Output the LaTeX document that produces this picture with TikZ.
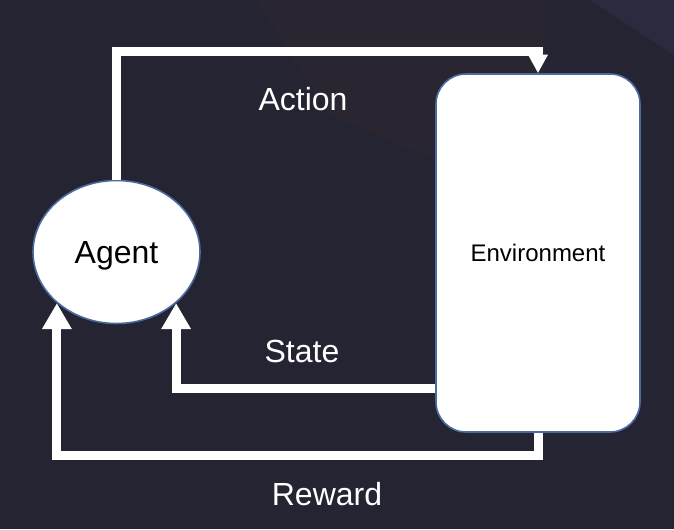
\documentclass[tikz,border=0pt]{standalone}
\usepackage{fontspec}
\setmainfont{Liberation Sans}
\usetikzlibrary{arrows.meta, shapes.geometric}
\definecolor{bgnavy}{RGB}{36,36,51}
\definecolor{bgwarm}{RGB}{52,39,48}
\definecolor{bgviolet}{RGB}{52,50,78}
\definecolor{rimblue}{RGB}{74,106,160}

\begin{document}
\begin{tikzpicture}[x=0.75pt, y=-0.75pt,
	agentnode/.style={ellipse, draw=rimblue, line width=1.2pt, fill=white,
		minimum width=125.25pt, minimum height=107.25pt, inner sep=0pt,
		text depth=0pt, font=\fontsize{24}{28}\selectfont},
	envnode/.style={rectangle, rounded corners=22.5pt, draw=rimblue, line width=1.2pt, fill=white,
		minimum width=153pt, minimum height=268.5pt, inner sep=0pt,
		font=\fontsize{18}{22}\selectfont},
	flow/.style={draw=white, line width=6.75pt, line join=miter,
		-{Triangle[length=19.5pt, width=21pt]}},
	flowlabel/.style={text=white, font=\fontsize{24}{28}\selectfont}]
	% background
	\useasboundingbox[fill=bgnavy] (0,0) rectangle (674,529);
	\fill[bgwarm, opacity=0.35] (255,0) -- (545,0) -- (545,70) -- (470,175) -- (330,115) -- cycle;
	\fill[bgviolet, opacity=0.45] (590,0) -- (674,0) -- (674,55) -- cycle;
	% nodes
	\node[agentnode] (Agent) at (116.5,252) {Agent};
	\node[envnode] (Env) at (538,253) {Environment};
	% connectors
	\draw[flow, -{Triangle[length=14pt, width=14pt]}] (Agent.north) |- ([yshift=16pt]Env.north) -- (Env.north);
	\draw[flow] ([yshift=33pt]Env.south west) -| (Agent.south east);
	\coordinate (rwd) at ([yshift=-17.25pt]Env.south);
	\draw[flow] (Env.south) -- (rwd) -| (Agent.south west);
	% labels
	\node[flowlabel] (act) at (303,99) {Action};
	\node[flowlabel] (st) at (302,351) {State};
	\node[flowlabel] (rew) at (327,494) {Reward};
\end{tikzpicture}
\end{document}
